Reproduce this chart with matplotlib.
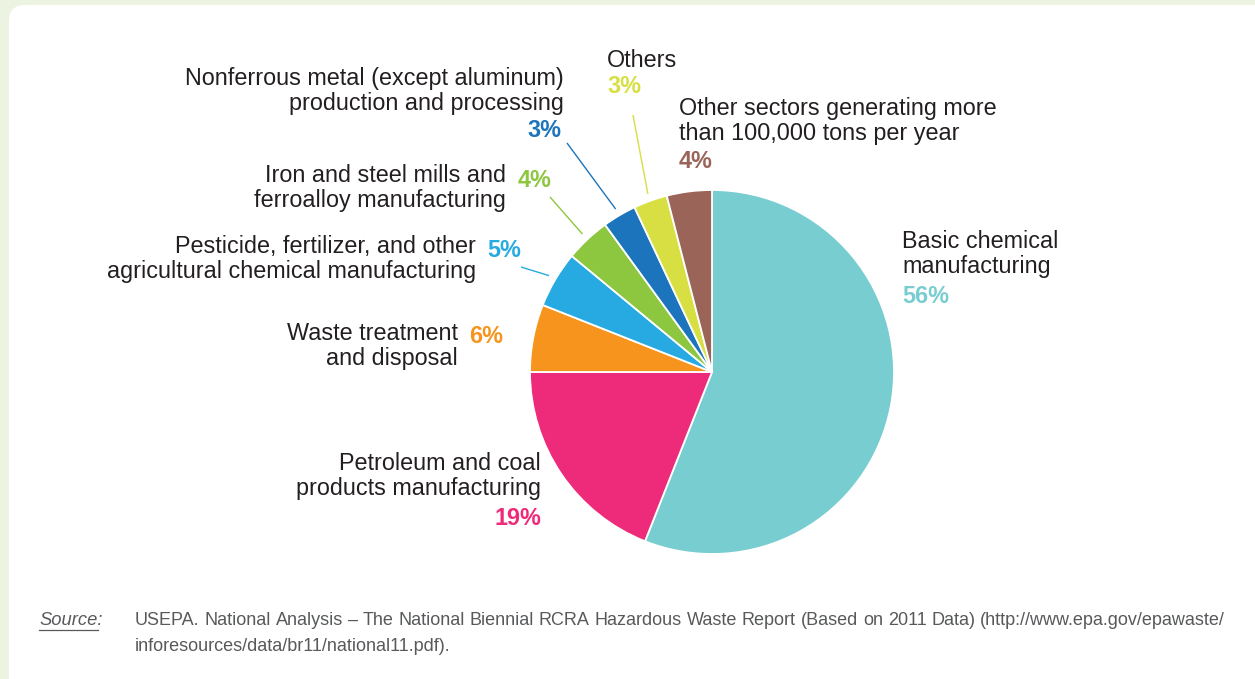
import matplotlib
matplotlib.use("Agg")
import matplotlib.pyplot as plt
from matplotlib.patches import FancyBboxPatch
from matplotlib import font_manager
import numpy as np

# ---------------- data ----------------
sectors = [
    "Basic chemical\nmanufacturing",
    "Petroleum and coal\nproducts manufacturing",
    "Waste treatment\nand disposal",
    "Pesticide, fertilizer, and other\nagricultural chemical manufacturing",
    "Iron and steel mills and\nferroalloy manufacturing",
    "Nonferrous metal (except aluminum)\nproduction and processing",
    "Others",
    "Other sectors generating more\nthan 100,000 tons per year",
]
shares = [56, 19, 6, 5, 4, 3, 3, 4]
colors = ["#78CDD0", "#EE2A7B", "#F7941D", "#27AAE1", "#8DC63F",
          "#1C75BC", "#D7DF43", "#9B6458"]
source_label = "Source:"
source_text_1 = ("USEPA. National Analysis \u2013 The National Biennial RCRA Hazardous "
                 "Waste Report (Based on 2011 Data) (http://www.epa.gov/epawaste/")
source_text_2 = "inforesources/data/br11/national11.pdf)."

# ---------------- layout ----------------
W, H = 1255, 679
fig = plt.figure(figsize=(W / 100, H / 100), dpi=100, facecolor="#ECF3E0")
ax = fig.add_axes([0, 0, 1, 1])

def Y(y):
    return H - y

names = {f.name for f in font_manager.fontManager.ttflist}
main_font = "Liberation Sans" if "Liberation Sans" in names else "DejaVu Sans"
narrow_font = "Liberation Sans Narrow" if "Liberation Sans Narrow" in names else main_font

cx, cy, R = 712, Y(372), 182
wedges, _ = ax.pie(shares, colors=colors, startangle=90, counterclock=False,
                   center=(cx, cy), radius=R, frame=True,
                   wedgeprops=dict(edgecolor="white", linewidth=1.3))
ax.set_xlim(0, W)
ax.set_ylim(0, H)
ax.set_aspect("equal")
ax.axis("off")

box = FancyBboxPatch((9, Y(700)), 1280, 695, boxstyle="round,pad=0,rounding_size=16",
                     facecolor="white", edgecolor="none", zorder=0)
ax.add_patch(box)

FS = 16.8
TXT = "#231F20"
LS = 25  # line spacing in px

def label(idx, x, y, ha, pct_pos):
    lines = sectors[idx].split("\n")
    for i, ln in enumerate(lines):
        ax.text(x, Y(y + i * LS), ln, ha=ha, va="baseline", fontsize=FS,
                color=TXT, family=main_font)
    px, py, pha = pct_pos
    ax.text(px, Y(py), f"{shares[idx]}%", ha=pha, va="baseline", fontsize=FS,
            color=colors[idx], family=main_font, fontweight="bold")

label(0, 902, 248, "left", (902, 303, "left"))
label(1, 541, 470, "right", (541, 525, "right"))
label(2, 458, 340, "right", (469, 343, "left"))
label(3, 476, 253, "right", (487, 257, "left"))
label(4, 506, 182, "right", (518, 187, "left"))
label(5, 564, 85, "right", (561, 137, "right"))
label(6, 607, 67, "left", (607, 93, "left"))
label(7, 679, 115, "left", (679, 168, "left"))

# leader lines: from label anchor to just outside the wedge's mid-angle
leader_start = {3: (521, 267), 4: (550, 197), 5: (567, 143), 6: (633, 115)}
for idx, (sx, sy) in leader_start.items():
    w = wedges[idx]
    mid = np.deg2rad((w.theta1 + w.theta2) / 2)
    r_in = 1.04
    ax.plot([sx, cx + R * r_in * np.cos(mid)],
            [Y(sy), cy + R * r_in * np.sin(mid)],
            color=colors[idx], lw=1.0, solid_capstyle="butt")

# ---------------- source ----------------
SRC = "#58595B"
SFS = 13.0
fig.canvas.draw()
renderer = fig.canvas.get_renderer()
st = ax.text(39, Y(625), source_label, ha="left", va="baseline", fontsize=13.2,
             color=SRC, family=main_font, style="italic")
sw = st.get_window_extent(renderer).width
ax.plot([39, 39 + sw - 5], [Y(629.5), Y(629.5)], color=SRC, lw=0.9)

# justified first line
words = source_text_1.split(" ")
x0, x1 = 135, 1225
arts = []
for wd in words:
    t = ax.text(0, Y(625), wd, ha="left", va="baseline", fontsize=SFS,
                color=SRC, family=narrow_font)
    arts.append(t)
widths = [a.get_window_extent(renderer).width for a in arts]
gap = (x1 - x0 - sum(widths)) / (len(words) - 1)
x = x0
for a, wdt in zip(arts, widths):
    a.set_x(x)
    x += wdt + gap
ax.text(x0, Y(651), source_text_2, ha="left", va="baseline", fontsize=SFS,
        color=SRC, family=narrow_font)

fig.savefig("out.png", dpi=100, facecolor=fig.get_facecolor())
